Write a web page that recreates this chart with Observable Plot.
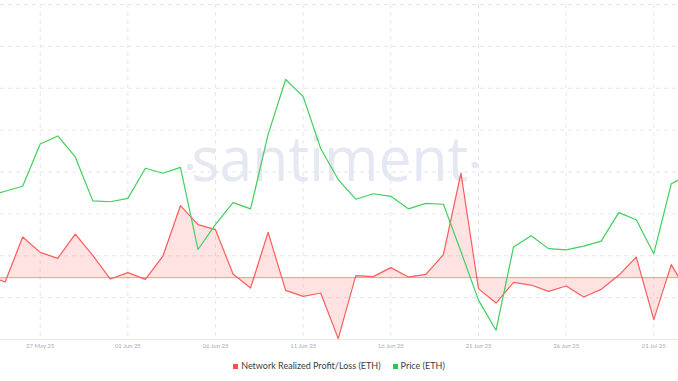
<!DOCTYPE html>
<html>
<head>
<meta charset="utf-8">
<script src="https://cdn.jsdelivr.net/npm/d3@7"></script>
<script src="https://cdn.jsdelivr.net/npm/@observablehq/plot@0.6"></script>
<style>
  html, body { margin: 0; padding: 0; background: #fff; }
  #wrap { position: relative; width: 678px; height: 352px; }
  #wrap > svg { position: absolute; left: 0; top: 0; }
  #legend { display: flex; justify-content: center; align-items: center; margin-top: 8px;
            font: 9px Lato, sans-serif; color: #3c3c3c; line-height: 12px; }
  .item { display: flex; align-items: center; }
  .sw { width: 5px; height: 5px; margin-right: 3px; }
</style>
</head>
<body>
<div id="wrap"></div>
<div id="legend">
  <div class="item"><div class="sw" style="background:#ff4d4d"></div>Network Realized Profit/Loss (ETH)</div>
  <div class="item" style="margin-left:12px"><div class="sw" style="background:#26c953"></div>Price (ETH)</div>
</div>
<script>
// ---- data ----
const dates = [
  "2025-05-24","2025-05-25","2025-05-26","2025-05-27","2025-05-28","2025-05-29","2025-05-30","2025-05-31",
  "2025-06-01","2025-06-02","2025-06-03","2025-06-04","2025-06-05","2025-06-06","2025-06-07","2025-06-08",
  "2025-06-09","2025-06-10","2025-06-11","2025-06-12","2025-06-13","2025-06-14","2025-06-15","2025-06-16",
  "2025-06-17","2025-06-18","2025-06-19","2025-06-20","2025-06-21","2025-06-22","2025-06-23","2025-06-24",
  "2025-06-25","2025-06-26","2025-06-27","2025-06-28","2025-06-29","2025-06-30","2025-07-01","2025-07-02",
  "2025-07-03"
];
const price = [
  2542, 2554, 2566, 2667, 2686, 2636, 2531, 2529,
  2537, 2609, 2597, 2611, 2415, 2475, 2527, 2512,
  2690, 2821, 2780, 2656, 2582, 2535, 2548, 2542,
  2512, 2525, 2523, 2410, 2294, 2222, 2421, 2448,
  2417, 2414, 2423, 2435, 2503, 2486, 2405, 2572,
  2594
];
const profitLoss = [
  2300, -4400, 40600, 25300, 19300, 43600, 22300, -1400,
  5000, -1700, 21600, 72000, 53000, 48000, 3600, -10400,
  45300, -12700, -18700, -15400, -61000, 2000, 1000, 10000,
  600, 3300, 23000, 104600, -11000, -25400, -4700, -7400,
  -13700, -8400, -19400, -11700, 2300, 20600, -42000, 13000,
  -16700
];
const tickDates = ["2025-05-27","2025-06-01","2025-06-06","2025-06-11","2025-06-16","2025-06-21","2025-06-26","2025-07-01"];
const priceGrid = [2300, 2400, 2500, 2600, 2700, 2800, 2900, 3000];

// ---- build tables ----
const parse = d3.utcParse("%Y-%m-%d");
const priceData = dates.map((d, i) => ({date: parse(d), value: price[i]}));
const plData = dates.map((d, i) => ({date: parse(d), value: profitLoss[i]}));
const ticks = tickDates.map(parse);

const DAY = 864e5;
const ref = parse("2025-05-27").getTime();
const xDomain = [new Date(ref - 2.265 * DAY), new Date(ref + 36.41 * DAY)];

const W = 678, H = 352;
const common = {
  width: W, height: H, marginTop: 4, marginBottom: 13, marginLeft: 0, marginRight: 0,
  style: {background: "transparent", fontFamily: "Lato, sans-serif"}
};

// layer 1: grid, axis (price scale)
const base = Plot.plot({
  ...common,
  x: {type: "utc", domain: xDomain},
  y: {domain: [2200, 3000], axis: null},
  marks: [
    Plot.gridX(ticks, {stroke: "#e4e7ef", strokeOpacity: 1, strokeDasharray: "4,4"}),
    Plot.gridY(priceGrid, {stroke: "#e4e7ef", strokeOpacity: 1, strokeDasharray: "4,4"}),
    Plot.ruleY([2200], {stroke: "#e6e8ef"}),
    Plot.axisX(ticks, {tickSize: 0, tickPadding: 4, tickFormat: d3.utcFormat("%d %b %y"),
      fontSize: 6, fill: "#a3abc6", label: null})
  ]
});

// watermark
const g = d3.select(base).insert("g", "g");
g.append("text").attr("x", 191.5).attr("y", 181).attr("textLength", 277)
  .attr("lengthAdjust", "spacingAndGlyphs").attr("text-anchor", "start")
  .attr("font-family", "'Open Sans', sans-serif").attr("font-size", 62)
  .attr("fill", "#e5e8f2").text("santiment");
g.append("circle").attr("cx", 190).attr("cy", 167).attr("r", 3.2).attr("fill", "#e5e8f2");
g.append("circle").attr("cx", 474.7).attr("cy", 165).attr("r", 3.2).attr("fill", "#e5e8f2");

// layer 2: realized profit/loss (own scale)
const plPlot = Plot.plot({
  ...common,
  x: {type: "utc", domain: xDomain, axis: null},
  y: {domain: [-61900, 273300], axis: null},
  marks: [
    Plot.areaY(plData, {x: "date", y: "value", fill: "#ff5b5b", fillOpacity: 0.17, clip: true}),
    Plot.ruleY([0], {stroke: "#ff8f8f", strokeWidth: 1}),
    Plot.lineY(plData, {x: "date", y: "value", stroke: "#ff5b5b", strokeWidth: 1.2, clip: true})
  ]
});

// layer 3: price
const pricePlot = Plot.plot({
  ...common,
  x: {type: "utc", domain: xDomain, axis: null},
  y: {domain: [2200, 3000], axis: null},
  marks: [
    Plot.lineY(priceData, {x: "date", y: "value", stroke: "#3fcf5e", strokeWidth: 1.2, clip: true})
  ]
});

const wrap = document.getElementById("wrap");
wrap.append(base, plPlot, pricePlot);
</script>
</body>
</html>
